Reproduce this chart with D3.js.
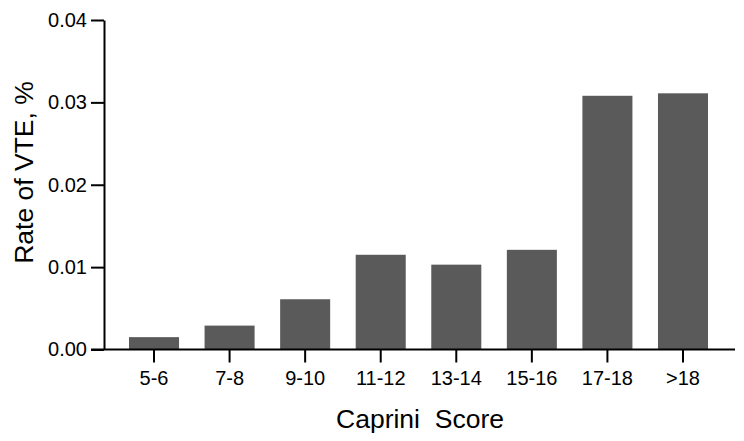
<!DOCTYPE html>
<html>
<head>
<meta charset="utf-8">
<script src="https://cdn.jsdelivr.net/npm/d3@7"></script>
<style>
  body { margin: 0; background: #fff; }
  svg { display: block; font-family: "Liberation Sans", Arial, sans-serif; }
</style>
</head>
<body>
<svg width="744" height="441"></svg>
<script>
// data
const categories = ['5-6', '7-8', '9-10', '11-12', '13-14', '15-16', '17-18', '>18'];
const rates = [0.0015, 0.0029, 0.0061, 0.0115, 0.0103, 0.0121, 0.0308, 0.0311];
const yTicks = [0, 0.01, 0.02, 0.03, 0.04];

const svg = d3.select('svg');

const marginLeft = 104, plotTop = 20, plotBottom = 349.5;

const x = d3.scaleBand()
    .domain(categories)
    .range([129, 708])
    .paddingInner(0.338)
    .paddingOuter(0);

const y = d3.scaleLinear()
    .domain([0, 0.04])
    .range([plotBottom, plotTop]);

// bars
svg.append('g')
  .selectAll('rect')
  .data(categories)
  .join('rect')
    .attr('x', d => x(d))
    .attr('width', x.bandwidth())
    .attr('y', (d, i) => y(rates[i]))
    .attr('height', (d, i) => y(0) - y(rates[i]))
    .attr('fill', '#5a5a5a');

// y axis
const gY = svg.append('g')
    .attr('transform', 'translate(' + marginLeft + ',0)')
    .call(d3.axisLeft(y).tickValues(yTicks).tickFormat(d3.format('.2f'))
      .tickSize(13).tickSizeOuter(0).tickPadding(4));

// x axis
const gX = svg.append('g')
    .attr('transform', 'translate(0,' + plotBottom + ')')
    .call(d3.axisBottom(x).tickSize(13).tickSizeOuter(0).tickPadding(8));
gX.select('.domain').remove();
gX.append('line')
    .attr('x1', marginLeft - 13).attr('x2', 735)
    .attr('stroke', '#000').attr('stroke-width', 2);

[gX, gY].forEach(g => {
  g.selectAll('.domain, .tick line').attr('stroke', '#000').attr('stroke-width', 2);
  g.selectAll('.tick text').attr('fill', '#000')
    .style('font-size', '20px').style('font-family', '"Liberation Sans", Arial, sans-serif');
});

// titles
svg.append('text')
    .attr('x', 420).attr('y', 428)
    .attr('text-anchor', 'middle')
    .style('white-space', 'pre')
    .style('font-size', '26.5px')
    .text('Caprini  Score');

svg.append('text')
    .attr('transform', 'translate(33,172.5) rotate(-90)')
    .attr('text-anchor', 'middle')
    .style('font-size', '26.5px')
    .text('Rate of VTE, %');
</script>
</body>
</html>
